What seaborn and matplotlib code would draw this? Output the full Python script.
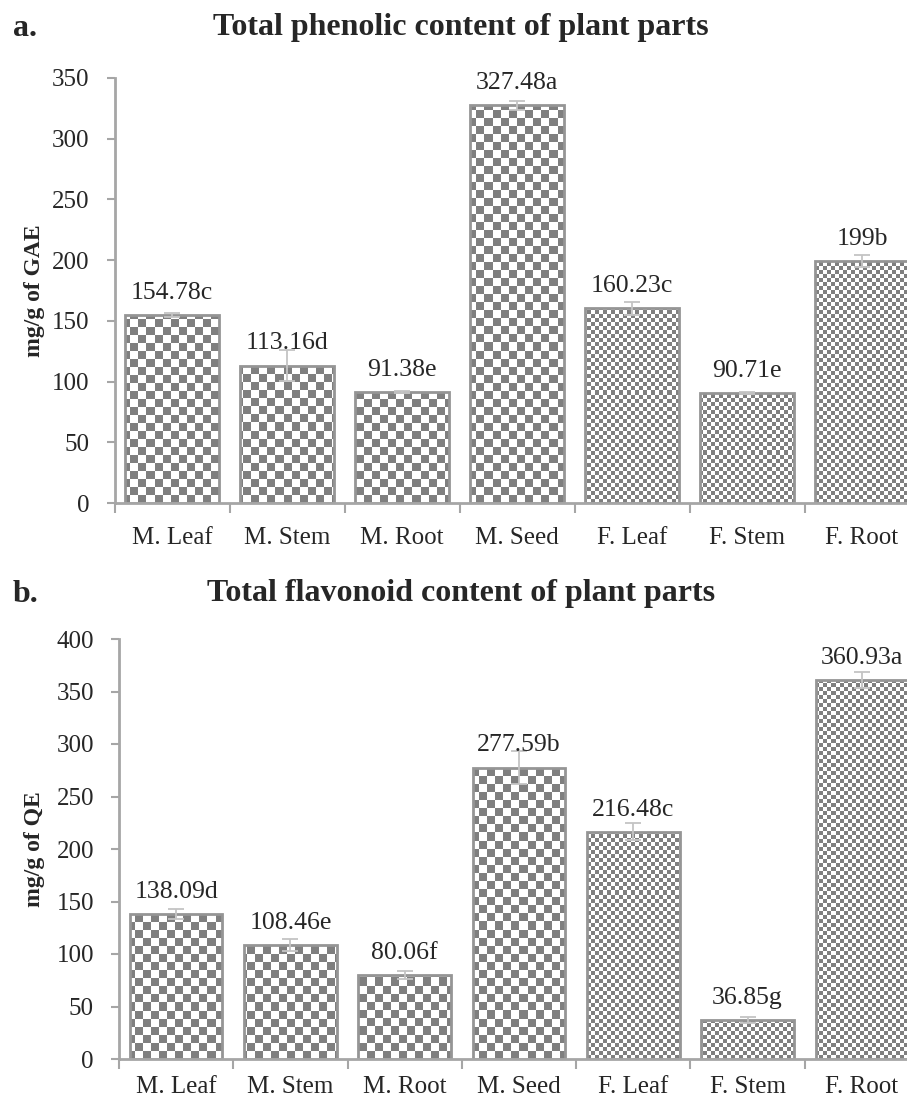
import numpy as np
import matplotlib.pyplot as plt
import seaborn as sns
from matplotlib.colors import ListedColormap

# Data
parts = ['M. Leaf', 'M. Stem', 'M. Root', 'M. Seed', 'F. Leaf', 'F. Stem', 'F. Root']
sex = ['M', 'M', 'M', 'M', 'F', 'F', 'F']

phenolic = [154.78, 113.16, 91.38, 327.48, 160.23, 90.71, 199.0]
phenolic_sd = [1.5, 13.0, 1.0, 3.5, 5.0, 1.0, 5.0]
phenolic_lab = ['154.78c', '113.16d', '91.38e', '327.48a', '160.23c', '90.71e', '199b']

flavonoid = [138.09, 108.46, 80.06, 277.59, 216.48, 36.85, 360.93]
flavonoid_sd = [5.0, 6.0, 4.0, 16.0, 8.0, 3.0, 8.0]
flavonoid_lab = ['138.09d', '108.46e', '80.06f', '277.59b', '216.48c', '36.85g', '360.93a']

sns.set_style('white')
plt.rcParams['font.family'] = ['Liberation Serif', 'DejaVu Serif']

axis_grey = '#a6a6a6'
edge_grey = '#959595'
dark = '#7f7f7f'
err_grey = '#c4c4c4'
checker_cmap = ListedColormap(['white', dark])

fig = plt.figure(figsize=(9.07, 11.09), dpi=100)
W, H = 907, 1109


def checker_fill(ax, patch, cell_px, ymax):
    # checkerboard image clipped to the bar
    pos = ax.get_position()
    nx = int(pos.width * W / cell_px)
    ny = int(pos.height * H / cell_px)
    arr = np.add.outer(np.arange(ny), np.arange(nx)) % 2
    x0, x1 = ax.get_xlim()
    im = ax.imshow(arr, cmap=checker_cmap, extent=(x0, x1, 0, ymax), origin='lower',
                   aspect='auto', interpolation='nearest', zorder=1)
    im.set_clip_path(patch)


def panel(rect, values, sd, labels, ymax, letter, title, ylabel, title_y, ylab_pos, xpad):
    ax = fig.add_axes(rect)
    sns.barplot(x=parts, y=values, color='white', edgecolor=edge_grey, linewidth=2,
                width=0.81, ax=ax, zorder=2)
    ax.set_xlim(-0.5, len(parts) - 0.5)
    ax.set_ylim(0, ymax)

    bars = ax.patches[:len(parts)]
    for p, s in zip(bars, sex):
        p.set_facecolor('none')
        checker_fill(ax, p, 8 if s == 'M' else 4, ymax)
    ax.set_xlim(-0.5, len(parts) - 0.5)
    ax.set_ylim(0, ymax)

    centers = [p.get_x() + p.get_width() / 2 for p in bars]
    ax.errorbar(centers, values, yerr=sd, fmt='none', ecolor=err_grey, elinewidth=1.3,
                capsize=6, capthick=1.3, zorder=3)
    for x, v, lab in zip(centers, values, labels):
        ax.annotate(lab, (x, v), xytext=(0, 8), textcoords='offset points',
                    ha='center', va='bottom', fontsize=18.5)

    ax.set_yticks(np.arange(0, ymax + 1, 50))
    ax.tick_params(axis='y', labelsize=18, length=6, width=1.5, color=axis_grey,
                   left=True, pad=12)
    ax.set_xticks(np.arange(-0.5, len(parts)), [''] * (len(parts) + 1))
    ax.set_xticks(centers, parts, minor=True)
    ax.tick_params(axis='x', which='major', length=7, width=1.5, color=axis_grey, bottom=True)
    ax.tick_params(axis='x', which='minor', length=0, labelsize=18, pad=xpad)

    for side in ['top', 'right']:
        ax.spines[side].set_visible(False)
    for side in ['left', 'bottom']:
        ax.spines[side].set_color(axis_grey)
        ax.spines[side].set_linewidth(2)

    ax.set_xlabel('')
    ax.set_ylabel(ylabel, fontsize=17, fontweight='bold')
    ax.yaxis.set_label_coords(*ylab_pos)

    fig.text(461 / W, title_y, title, ha='center', va='center', fontsize=23, fontweight='bold')
    fig.text(13 / W, title_y, letter, ha='left', va='center', fontsize=23, fontweight='bold')
    return ax


panel([114.5 / W, 1 - 503 / H, 805 / W, 425 / H], phenolic, phenolic_sd, phenolic_lab, 350,
      'a.', 'Total phenolic content of plant parts', 'mg/g of GAE',
      1 - 28 / H, (-0.086, 0.5), 17)
panel([119 / W, 1 - 1059 / H, 800 / W, 420 / H], flavonoid, flavonoid_sd, flavonoid_lab, 400,
      'b.', 'Total flavonoid content of plant parts', 'mg/g of QE',
      1 - 594 / H, (-0.093, 0.5), 12)

fig.savefig('out.png', dpi=100)
